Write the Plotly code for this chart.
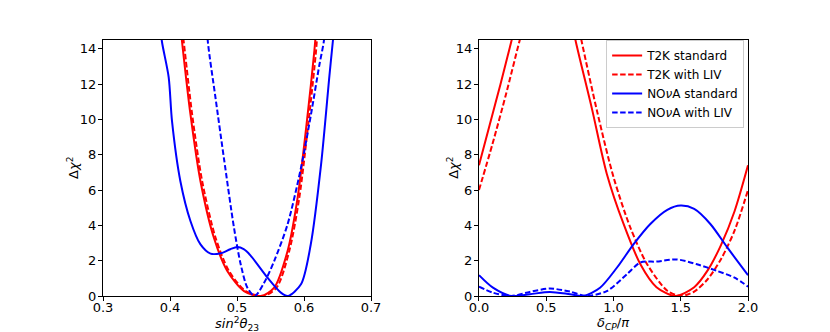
import plotly.graph_objects as go

# left panel: delta chi^2 vs sin^2(theta23)
s23_t2k_std = [0.415, 0.418, 0.4305, 0.4455, 0.4655, 0.4855, 0.5105, 0.5355, 0.5555, 0.5755, 0.5905, 0.6055, 0.6155, 0.619]
chi_t2k_std = [15.5, 14.4, 10.3, 6.5, 3.3, 1.42, 0.28, 0.0, 0.47, 2.55, 5.57, 10.3, 13.9, 15.5]
s23_t2k_liv = [0.417, 0.4205, 0.433, 0.448, 0.468, 0.488, 0.513, 0.539, 0.559, 0.578, 0.593, 0.608, 0.618, 0.621]
chi_t2k_liv = [15.5, 14.4, 10.3, 6.5, 3.3, 1.42, 0.28, 0.0, 0.47, 2.55, 5.57, 10.3, 13.9, 15.5]
s23_nova_std = [0.385, 0.388, 0.398, 0.403, 0.4155, 0.4305, 0.4455, 0.4605, 0.4755, 0.49, 0.5005, 0.51, 0.52,
                0.5455, 0.5655, 0.576, 0.5955, 0.61, 0.6255, 0.638, 0.643, 0.646]
chi_nova_std = [15.5, 14.4, 12.4, 9.9, 6.5, 4.25, 2.92, 2.4, 2.42, 2.65, 2.77, 2.65, 2.3,
                1.04, 0.19, 0.0, 0.66, 2.9, 7.45, 12.5, 14.4, 15.5]
s23_nova_liv = [0.455, 0.4565, 0.468, 0.4805, 0.4955, 0.5055, 0.5155, 0.5265, 0.5405, 0.5555, 0.5755, 0.5955,
                0.6105, 0.623, 0.6295, 0.632]
chi_nova_liv = [15.5, 14.4, 11.2, 7.8, 3.87, 1.8, 0.47, 0.0, 0.75, 1.98, 4.06, 7.26, 10.3, 13.1, 14.4, 15.5]

# right panel: delta chi^2 vs delta_CP/pi
dcp_t2k_std = [0.0, 0.08, 0.16, 0.24, 0.3, 0.48, 0.66, 0.72, 0.84, 0.95, 1.075, 1.2, 1.32, 1.46, 1.6, 1.7, 1.8, 1.9, 2.0]
dchi_t2k_std = [7.4, 9.7, 12.0, 14.4, 16.2, 19.0, 16.6, 14.4, 10.6, 6.93, 4.08, 1.8, 0.5, 0.0, 0.5, 1.45, 2.9, 4.8, 7.4]
dcp_t2k_liv = [0.0, 0.1, 0.2, 0.3, 0.36, 0.53, 0.71, 0.764, 0.88, 1.0, 1.124, 1.25, 1.4, 1.5, 1.6, 1.7, 1.8, 1.9, 2.0]
dchi_t2k_liv = [6.0, 8.6, 11.4, 14.4, 16.1, 18.5, 16.4, 14.4, 10.4, 6.74, 3.9, 1.8, 0.3, 0.0, 0.25, 0.95, 2.1, 3.7, 6.0]
dcp_nova_std = [0.0, 0.104, 0.24, 0.378, 0.527, 0.677, 0.776, 0.9, 1.025, 1.15, 1.274, 1.4, 1.5, 1.6, 1.72, 1.846, 2.0]
dchi_nova_std = [1.18, 0.47, 0.0, 0.1, 0.23, 0.1, 0.0, 0.47, 1.6, 2.94, 4.08, 4.88, 5.12, 4.93, 4.08, 2.75, 1.18]
dcp_nova_liv = [0.0, 0.104, 0.24, 0.378, 0.527, 0.677, 0.8, 0.95, 1.1, 1.2, 1.32, 1.47, 1.62, 1.77, 1.9, 2.0]
dchi_nova_liv = [0.53, 0.19, 0.0, 0.23, 0.42, 0.25, 0.0, 0.28, 1.23, 1.9, 1.95, 2.07, 1.8, 1.42, 1.04, 0.53]

RED = "#ff0000"
BLUE = "#0000ff"
DASH = "5.5px,2.5px"

fig = go.Figure()

def add(x, y, color, dash, name, xa, ya, show):
    fig.add_trace(go.Scatter(
        x=x, y=y, mode="lines", name=name, showlegend=show,
        line=dict(color=color, width=2, dash=dash, shape="spline", smoothing=0.8),
        xaxis=xa, yaxis=ya, cliponaxis=True))

add(s23_t2k_std, chi_t2k_std, RED, "solid", "T2K standard", "x", "y", False)
add(s23_t2k_liv, chi_t2k_liv, RED, DASH, "T2K with LIV", "x", "y", False)
add(s23_nova_std, chi_nova_std, BLUE, "solid", "NO<i>ν</i>A standard", "x", "y", False)
add(s23_nova_liv, chi_nova_liv, BLUE, DASH, "NO<i>ν</i>A with LIV", "x", "y", False)

add(dcp_t2k_std, dchi_t2k_std, RED, "solid", "T2K standard", "x2", "y2", True)
add(dcp_t2k_liv, dchi_t2k_liv, RED, DASH, "T2K with LIV", "x2", "y2", True)
add(dcp_nova_std, dchi_nova_std, BLUE, "solid", "NO<i>ν</i>A standard", "x2", "y2", True)
add(dcp_nova_liv, dchi_nova_liv, BLUE, DASH, "NO<i>ν</i>A with LIV", "x2", "y2", True)

font = dict(family="DejaVu Sans", size=13, color="black")
ax_common = dict(showline=True, linecolor="black", linewidth=1, mirror=True, ticks="outside",
                 ticklen=4, tickwidth=1, tickcolor="black", showgrid=False, zeroline=False,
                 tickfont=font, automargin=False)

# page body has an 8px margin, so margins are offset by it
fig.update_layout(
    width=830, height=332,
    margin=dict(l=95, r=90, t=32, b=44),
    paper_bgcolor="white", plot_bgcolor="white",
    font=font,
    xaxis=dict(domain=[0, 0.4155], range=[0.3, 0.7], tickvals=[0.3, 0.4, 0.5, 0.6, 0.7],
               ticktext=["0.3", "0.4", "0.5", "0.6", "0.7"], anchor="y", ticklabelstandoff=-5,
               **ax_common),
    yaxis=dict(domain=[0, 1], range=[0, 14.5], tickvals=list(range(0, 15, 2)), anchor="x",
               ticklabelstandoff=-1, **ax_common),
    xaxis2=dict(domain=[0.5829, 1], range=[0, 2], tickvals=[0, 0.5, 1.0, 1.5, 2.0],
                ticktext=["0.0", "0.5", "1.0", "1.5", "2.0"], anchor="y2", ticklabelstandoff=-5,
                **ax_common),
    yaxis2=dict(domain=[0, 1], range=[0, 14.5], tickvals=list(range(0, 15, 2)), anchor="x2",
                ticklabelstandoff=-1, **ax_common),
    legend=dict(x=0.994, y=1.0, xanchor="right", yanchor="top", bgcolor="white",
                bordercolor="#cccccc", borderwidth=1, font=dict(family="DejaVu Sans", size=12),
                tracegroupgap=0, itemwidth=30),
)

# axis titles as annotations so they sit where matplotlib put them
titles = [
    ("x domain", "y domain", 0.5, -0.108, 0, "<i>sin</i><sup>2</sup><i>θ</i><sub>23</sub>"),
    ("x2 domain", "y2 domain", 0.5, -0.108, 0, "<i>δ</i><sub><i>CP</i></sub>/<i>π</i>"),
    ("x domain", "y domain", -0.112, 0.5, -90, "Δ<i>χ</i><sup>2</sup>"),
    ("x2 domain", "y2 domain", -0.097, 0.5, -90, "Δ<i>χ</i><sup>2</sup>"),
]
for xr, yr, xx, yy, ang, txt in titles:
    fig.add_annotation(xref=xr, yref=yr, x=xx, y=yy, text=txt, textangle=ang, showarrow=False,
                       xanchor="center", yanchor="middle", font=font)

fig.write_html("out.html")
